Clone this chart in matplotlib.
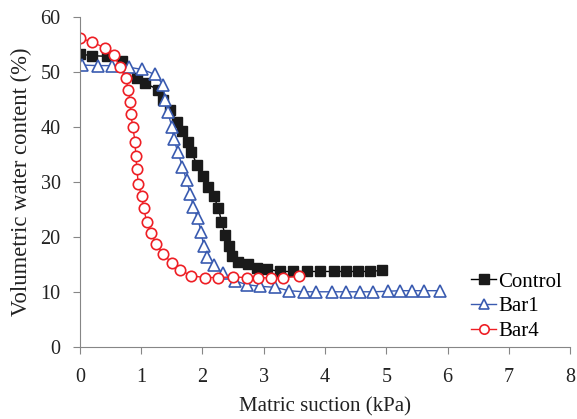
import numpy as np
import matplotlib.pyplot as plt

plt.rcParams['font.family'] = ['Liberation Serif', 'DejaVu Serif']

# Matric suction (kPa) and volumetric water content (%) for each sample
control_x = [0.00, 0.20, 0.44, 0.69, 0.93, 1.06, 1.28, 1.36, 1.47, 1.58, 1.66, 1.77, 1.82,
             1.91, 2.01, 2.09, 2.18, 2.26, 2.31, 2.37, 2.43, 2.48, 2.58, 2.75, 2.89, 3.05,
             3.27, 3.48, 3.70, 3.92, 4.14, 4.35, 4.54, 4.73, 4.93]
control_y = [53.3, 53.0, 52.9, 52.0, 48.9, 48.0, 46.8, 44.9, 43.1, 41.0, 39.2, 37.3, 35.5,
             33.1, 31.1, 29.1, 27.5, 25.2, 22.8, 20.3, 18.3, 16.5, 15.5, 15.0, 14.4, 14.1,
             13.7, 13.7, 13.7, 13.7, 13.7, 13.7, 13.7, 13.7, 13.9]

bar1_x = [0.03, 0.29, 0.52, 0.80, 1.02, 1.22, 1.36, 1.39, 1.43, 1.50, 1.53, 1.60, 1.67,
          1.74, 1.80, 1.85, 1.92, 1.98, 2.02, 2.07, 2.18, 2.34, 2.53, 2.72, 2.94, 3.19,
          3.41, 3.65, 3.86, 4.11, 4.35, 4.57, 4.79, 5.03, 5.22, 5.42, 5.62, 5.88]
bar1_y = [51.3, 51.2, 51.2, 50.9, 50.5, 49.6, 47.7, 44.9, 42.8, 40.1, 37.8, 35.4, 32.8,
          30.3, 27.9, 25.5, 23.4, 20.8, 18.3, 16.4, 14.8, 13.4, 12.0, 11.3, 11.0, 10.8,
          10.2, 10.0, 10.0, 10.0, 10.0, 10.0, 10.0, 10.1, 10.2, 10.2, 10.2, 10.2]

bar4_x = [0.00, 0.20, 0.41, 0.56, 0.65, 0.75, 0.79, 0.82, 0.83, 0.86, 0.90, 0.91, 0.93,
          0.95, 1.01, 1.04, 1.09, 1.16, 1.24, 1.36, 1.50, 1.63, 1.82, 2.04, 2.26, 2.49,
          2.72, 2.91, 3.11, 3.32, 3.58]
bar4_y = [56.2, 55.5, 54.4, 53.1, 50.9, 48.9, 46.7, 44.6, 42.4, 40.1, 37.3, 34.8, 32.4,
          29.7, 27.4, 25.2, 22.7, 20.7, 18.7, 16.9, 15.2, 14.0, 12.9, 12.6, 12.6, 12.7,
          12.6, 12.6, 12.5, 12.6, 12.8]

fig = plt.figure(figsize=(5.77, 4.19), dpi=100)
ax = fig.add_axes([0.1386, 0.1726, 0.8494, 0.7861])

ax.plot(control_x, control_y, color='black', lw=1, marker='s', ms=7.5,
        mfc='#1a1a1a', mec='#1a1a1a', label='Control')
ax.plot(bar1_x, bar1_y, color='#3a5bb0', lw=1, marker='^', ms=8.5,
        mfc='white', mec='#3a5bb0', mew=1.2, label='Bar1')
ax.plot(bar4_x, bar4_y, color='#ee1f25', lw=1, marker='o', ms=7.5,
        mfc='white', mec='#ee1f25', mew=1.2, label='Bar4')

ax.set_xlim(0, 8)
ax.set_ylim(0, 60)
ax.set_xticks(np.arange(0, 9, 1))
ax.set_yticks(np.arange(0, 61, 10))
for side in ['top', 'right']:
    ax.spines[side].set_visible(False)
for side in ['left', 'bottom']:
    ax.spines[side].set_color('#868686')
ax.tick_params(direction='out', length=5, color='#868686', labelsize=14.5, labelcolor='#222222')
ax.tick_params(axis='x', pad=10)
ax.tick_params(axis='y', pad=9)

ax.set_xlabel('Matric suction (kPa)', fontsize=15, color='#222222', labelpad=8)
ax.set_ylabel('Volumetric water content (%)', fontsize=16.3, color='#222222', labelpad=6)

ax.legend(loc='upper left', bbox_to_anchor=(471 / 577, 1 - 272 / 419),
          bbox_transform=fig.transFigure, frameon=False, fontsize=15,
          handlelength=1.2, handletextpad=0.1, labelspacing=0.25,
          borderpad=0, borderaxespad=0, markerscale=0.9)

fig.savefig('out.png', dpi=100)
